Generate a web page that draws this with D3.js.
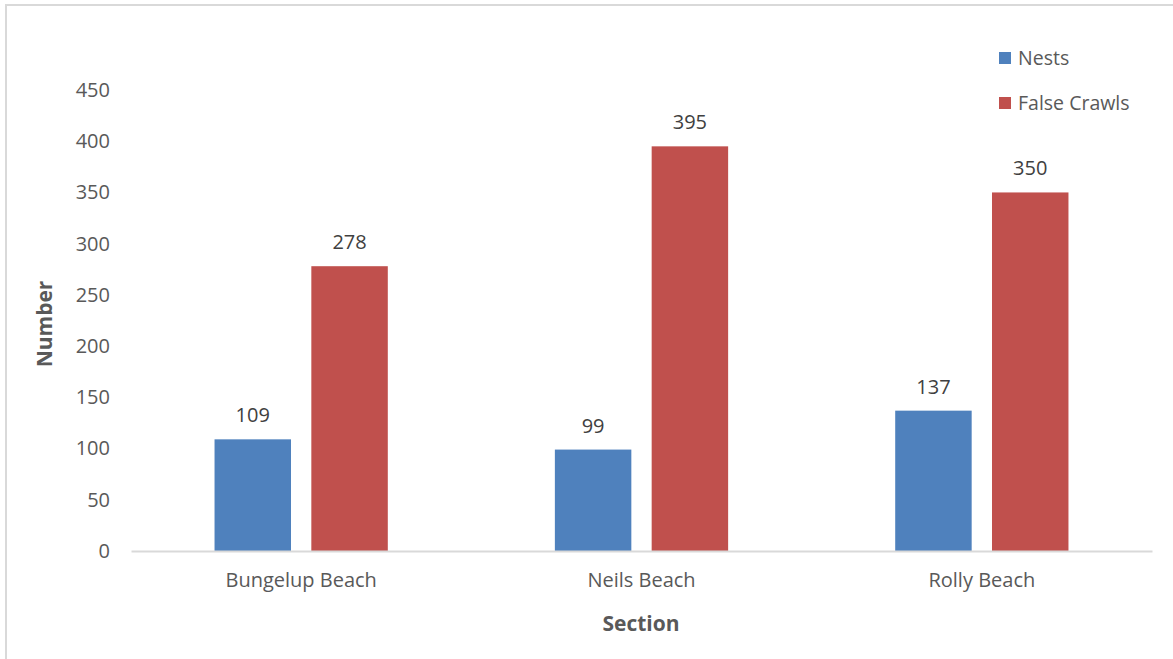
<!DOCTYPE html>
<html><head><meta charset="utf-8">
<script src="https://cdn.jsdelivr.net/npm/d3@7"></script>
<style>body{margin:0;background:#fff}svg{display:block}text{font-family:"Open Sans",Lato,sans-serif}</style>
</head><body><svg id="c" width="1173" height="659"></svg>
<script>
const categories = ["Bungelup Beach", "Neils Beach", "Rolly Beach"];
const seriesNames = ["Nests", "False Crawls"];
const nests = [109, 99, 137];
const falseCrawls = [278, 395, 350];
const yTicks = [0, 50, 100, 150, 200, 250, 300, 350, 400, 450];
const colors = ["#4f81bd", "#c0504d"];
const FONT = "'Open Sans', Lato, sans-serif";

const svg = d3.select("#c");
svg.append("rect").attr("x", 6).attr("y", 5).attr("width", 1180).attr("height", 670)
  .attr("fill", "#fff").attr("stroke", "#d9d9d9").attr("stroke-width", 2);

const mLeft = 131, mRight = 1152, mTop = 90, mBottom = 551;
const x = d3.scaleBand().domain(categories).range([mLeft, mRight]);
const y = d3.scaleLinear().domain([0, 450]).range([mBottom, mTop]);
const inner = d3.scaleBand().domain(seriesNames).range([0, x.bandwidth()]).paddingInner(0.21).paddingOuter(0.863);

const series = [nests, falseCrawls];
const g = svg.append("g");
series.forEach((vals, si) => {
  g.selectAll(null).data(vals).enter().append("rect")
    .attr("x", (d, i) => x(categories[i]) + inner(seriesNames[si]))
    .attr("y", d => y(d)).attr("width", inner.bandwidth())
    .attr("height", d => y(0) - y(d)).attr("fill", colors[si]);
  g.selectAll(null).data(vals).enter().append("text")
    .attr("x", (d, i) => x(categories[i]) + inner(seriesNames[si]) + inner.bandwidth() / 2)
    .attr("y", d => y(d) - 17).attr("text-anchor", "middle")
    .attr("font-size", 20).attr("fill", "#404040").text(d => d);
});

// x axis
const xa = svg.append("g").attr("transform", `translate(0,${mBottom})`)
  .call(d3.axisBottom(x).tickSize(0).tickPadding(22));
xa.select(".domain").attr("stroke", "#d9d9d9").attr("stroke-width", 2);
xa.selectAll("text").attr("font-size", 20).attr("fill", "#595959").attr("font-family", FONT);

// y axis
const ya = svg.append("g").attr("transform", `translate(110,0)`)
  .call(d3.axisLeft(y).tickValues(yTicks).tickSize(0).tickPadding(0));
ya.select(".domain").remove();
ya.selectAll("text").attr("font-size", 20).attr("fill", "#595959").attr("font-family", FONT);

// titles
svg.append("text").attr("x", 641).attr("y", 631).attr("text-anchor", "middle")
  .attr("font-size", 21).attr("font-weight", "bold").attr("fill", "#595959").text("Section");
svg.append("text").attr("transform", "translate(52,324) rotate(-90)").attr("text-anchor", "middle")
  .attr("font-size", 21).attr("font-weight", "bold").attr("fill", "#595959").text("Number");

// legend
const lg = svg.append("g");
seriesNames.forEach((n, i) => {
  lg.append("rect").attr("x", 999).attr("y", 52 + i * 45).attr("width", 12).attr("height", 12).attr("fill", colors[i]);
  lg.append("text").attr("x", 1018).attr("y", 65 + i * 45).attr("font-size", 19.5).attr("fill", "#595959").text(n);
});
</script></body></html>
